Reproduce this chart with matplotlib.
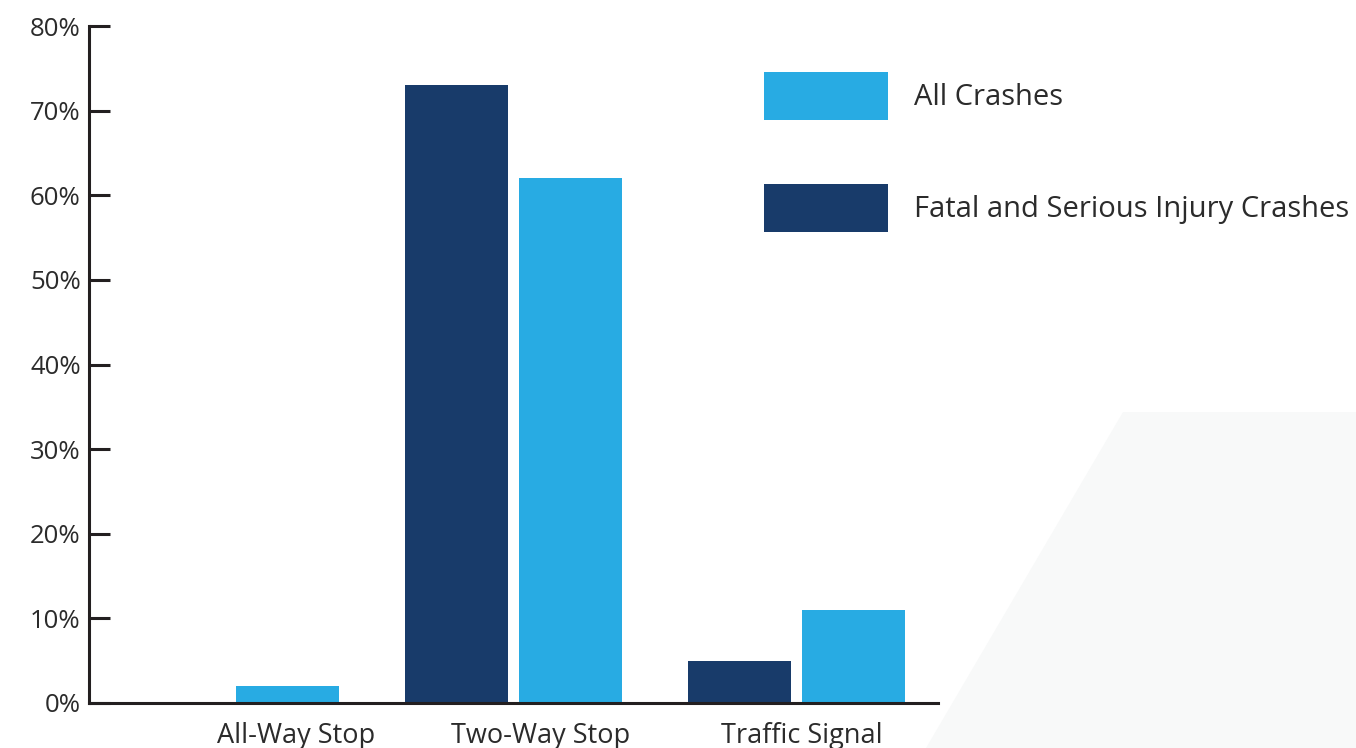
import matplotlib
matplotlib.use("Agg")
import matplotlib.pyplot as plt
from matplotlib.patches import Polygon, Patch
from matplotlib.transforms import ScaledTranslation, Affine2D
import numpy as np

# Share of crashes by intersection control type (%)
categories = ["All-Way Stop", "Two-Way Stop", "Traffic Signal"]
fatal_serious = [0, 73, 5]
all_crashes = [2, 62, 11]
y_ticks = [0, 10, 20, 30, 40, 50, 60, 70, 80]
y_tick_labels = [f"{v}%" for v in y_ticks]
series_labels = ["All Crashes", "Fatal and Serious Injury Crashes"]

DARK = "#183b6a"
LIGHT = "#28abe3"
INK = "#231f20"
TEXT = "#2b2b2b"

plt.rcParams["font.family"] = ["Open Sans", "DejaVu Sans"]

W, H, DPI = 1356, 748, 100
fig = plt.figure(figsize=(W / DPI, H / DPI), dpi=DPI)
fig.patch.set_facecolor("white")

# light decorative panel in the lower-right corner
px = Affine2D().scale(1.0 / W, 1.0 / H) + fig.transFigure
corner = Polygon([(1123, H - 412), (W, H - 412), (W, 0), (926, 0)],
                 closed=True, facecolor="#f8f9f9", edgecolor="none",
                 transform=px, zorder=0)
fig.patches.append(corner)

ax = fig.add_axes([89 / W, 1 - 703 / H, (938 - 89) / W, (703 - 26) / H])
ax.set_facecolor("none")

x = np.arange(len(categories))
bw = 0.364
off = 0.2
ax.bar(x - off, fatal_serious, width=bw, color=DARK, zorder=2)
ax.bar(x + off, all_crashes, width=bw, color=LIGHT, zorder=2)

ax.set_xlim(-0.5, 2.5)
ax.set_ylim(0, 80)

for side in ("top", "right"):
    ax.spines[side].set_visible(False)
for side in ("left", "bottom"):
    ax.spines[side].set_color(INK)
    ax.spines[side].set_linewidth(2.2)

ax.set_yticks(y_ticks)
ax.set_yticklabels(y_tick_labels)
ax.tick_params(axis="y", direction="in", length=15, width=2.2, color=INK,
               pad=6, labelsize=18.5, labelcolor=TEXT)

ax.set_xticks(x)
ax.set_xticklabels(categories)
ax.tick_params(axis="x", length=0, pad=14, labelsize=19.5, labelcolor=TEXT)
label_shift_px = [66, 27, 5]
for lab, dx in zip(ax.get_xticklabels(), label_shift_px):
    lab.set_transform(lab.get_transform() + ScaledTranslation(dx / DPI, 0, fig.dpi_scale_trans))

# legend: swatches about 124 x 48 px, rows 112 px apart
handles = [Patch(facecolor=LIGHT, edgecolor="none"),
           Patch(facecolor=DARK, edgecolor="none")]
fs = 21
em = fs * DPI / 72
sw_h_pt = 48 * 72 / DPI
hh = (sw_h_pt - 0.35 * 0.7 * fs) / (0.65 * fs)
leg = fig.legend(handles, series_labels, loc="upper left",
                 bbox_to_anchor=(764 / W, 1 - 72 / H), bbox_transform=fig.transFigure,
                 frameon=False, fontsize=fs, borderpad=0, borderaxespad=0,
                 handlelength=124 / em, handleheight=hh,
                 handletextpad=26 / em, labelspacing=(112 - 48) / em)
for t in leg.get_texts():
    t.set_color(TEXT)

fig.savefig("out.png", dpi=DPI)
